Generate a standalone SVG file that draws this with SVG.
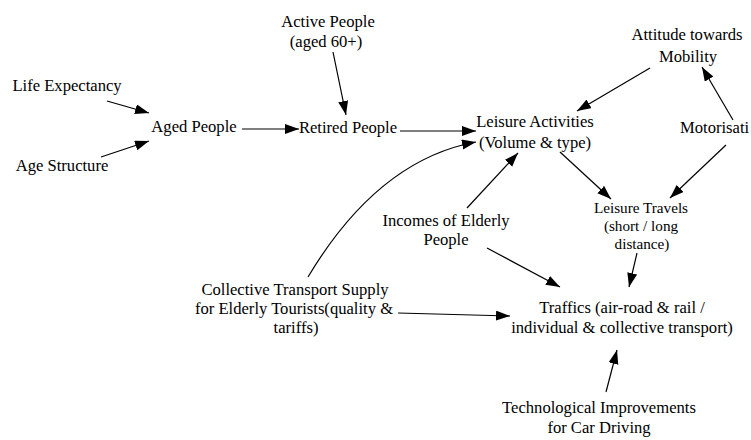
<svg xmlns="http://www.w3.org/2000/svg" width="751" height="440" viewBox="0 0 751 440">
<style>
text{font-family:'Liberation Serif','Times New Roman',serif;font-size:16.6px;fill:#000;text-anchor:middle}
.tight text{font-size:15.2px}
.c{fill:none;stroke:#000;stroke-width:1.2;marker-end:url(#ah)}
</style>
<defs>
<marker id="ah" markerUnits="userSpaceOnUse" markerWidth="15" markerHeight="11" refX="14" refY="5" orient="auto">
<path d="M0,0 L14,5 L0,10 z" fill="#000"/>
</marker>
</defs>
<rect width="751" height="440" fill="#fff"/>
<g id="connectors">
<path class="c" d="M107,101 L149,113"/>
<path class="c" d="M101,157 L149,141"/>
<path class="c" d="M242,129 L299,129"/>
<path class="c" d="M333,52 L346,115"/>
<path class="c" d="M400,131 L476,131"/>
<path class="c" d="M308,277 Q378,160 476,142"/>
<path class="c" d="M467,208 L518,153"/>
<path class="c" d="M650,68 L577,111"/>
<path class="c" d="M733,120 L702,67"/>
<path class="c" d="M560,152 L611,199"/>
<path class="c" d="M726,145 L670,198"/>
<path class="c" d="M487,248 L560,287"/>
<path class="c" d="M637,253 L629,287"/>
<path class="c" d="M398,313 L510,316"/>
<path class="c" d="M606,392 L617,350"/>
</g>
<g id="active-people"><text x="328" y="27">Active People</text><text x="326" y="47">(aged 60+)</text></g>
<g id="life-expectancy"><text x="67" y="91">Life Expectancy</text></g>
<g id="age-structure"><text x="62" y="171">Age Structure</text></g>
<g id="aged-people"><text x="194" y="132">Aged People</text></g>
<g id="retired-people"><text x="348" y="133">Retired People</text></g>
<g id="leisure-activities"><text x="535" y="127">Leisure Activities</text><text x="535" y="148">(Volume &amp; type)</text></g>
<g id="attitude"><text x="687" y="40">Attitude towards</text><text x="688" y="62">Mobility</text></g>
<g id="motorisation"><text x="680" y="133" style="text-anchor:start">Motorisati</text></g>
<g id="leisure-travels" class="tight"><text x="641" y="213">Leisure Travels</text><text x="641" y="231">(short / long</text><text x="642" y="249">distance)</text></g>
<g id="incomes"><text x="446" y="226">Incomes of Elderly</text><text x="446" y="245">People</text></g>
<g id="collective"><text x="295" y="295">Collective Transport Supply</text><text x="294" y="314">for Elderly Tourists(quality &amp;</text><text x="296" y="333">tariffs)</text></g>
<g id="traffics"><text x="622" y="313">Traffics (air-road &amp; rail /</text><text x="622" y="333">individual &amp; collective transport)</text></g>
<g id="technological"><text x="599" y="413">Technological Improvements</text><text x="599" y="433">for Car Driving</text></g>
</svg>
